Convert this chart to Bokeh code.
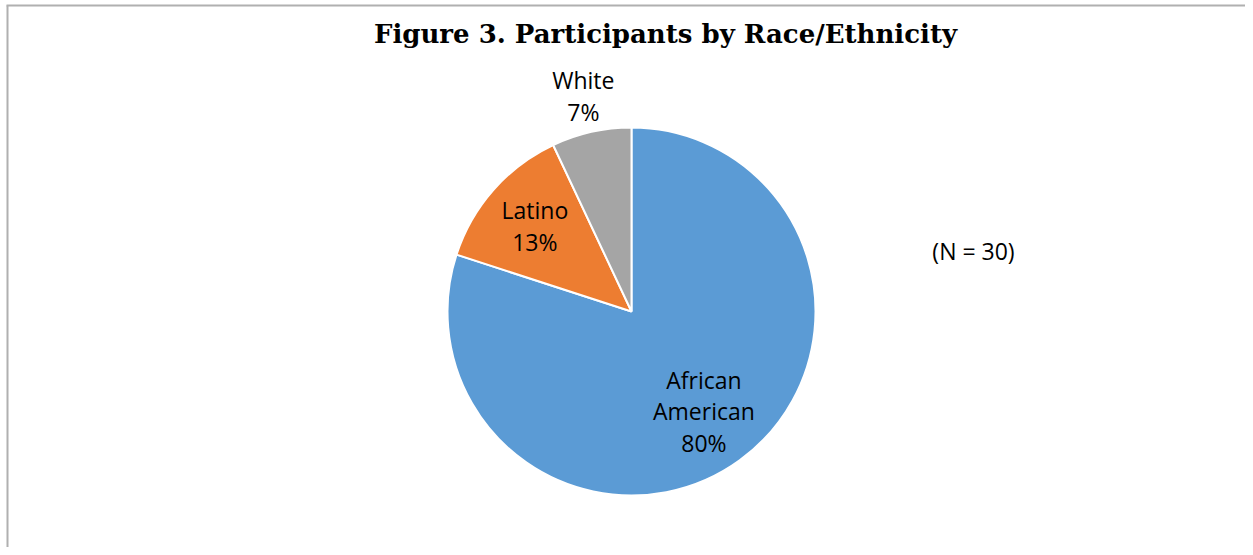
import math
from bokeh.plotting import figure
from bokeh.models import Range1d, ColumnDataSource
from bokeh.core.properties import value
from bokeh.embed import file_html
from bokeh.resources import INLINE

# ---- data ----
categories = ["African American", "Latino", "White"]
percents = [80, 13, 7]
colors = ["#5B9BD5", "#ED7D31", "#A5A5A5"]
label_lines = ["African\nAmerican\n80%", "Latino\n13%", "White\n7%"]
label_radius = [0.67, 0.70, 1.20]
title_text = "Figure 3. Participants by Race/Ethnicity"
note_text = "(N = 30)"

W, H = 1245, 547
p = figure(width=W, height=H, output_backend="svg", toolbar_location=None,
           x_range=Range1d(0, W), y_range=Range1d(0, H), min_border=0,
           outline_line_color=None)
p.axis.visible = False
p.grid.visible = False
p.background_fill_color = "white"
p.border_fill_color = "white"

cx, cy, r = 631, H - 311, 184

total = sum(percents)
starts, ends, lx, ly = [], [], [], []
acc = 0.0
for pct, rf in zip(percents, label_radius):
    a0 = math.pi / 2 - 2 * math.pi * acc / total
    a1 = math.pi / 2 - 2 * math.pi * (acc + pct) / total
    starts.append(a0)
    ends.append(a1)
    mid = (a0 + a1) / 2
    lx.append(cx + rf * r * math.cos(mid))
    ly.append(cy + rf * r * math.sin(mid))
    acc += pct

src = ColumnDataSource(dict(start=starts, end=ends, color=colors,
                            lx=lx, ly=ly, text=label_lines))
p.wedge(x=cx, y=cy, radius=r, start_angle="start", end_angle="end",
        direction="clock", fill_color="color", line_color="white",
        line_width=2, source=src)

p.text(x="lx", y="ly", text="text", source=src, text_align="center",
       text_baseline="middle", text_font=value("Open Sans"),
       text_font_size="23px", text_color="#000000", text_line_height=0.99)

p.text(x=[973], y=[H - 250], text=[note_text], text_align="center",
       text_baseline="middle", text_font=value("Open Sans"),
       text_font_size="23px", text_color="#000000")

p.text(x=[665], y=[H - 33], text=[title_text], text_align="center",
       text_baseline="middle", text_font=value("DejaVu Serif"),
       text_font_style="bold", text_font_size="26px", text_color="#000000")

# chart border (left and top)
p.line(x=[7, 7], y=[0, H - 5], line_color="#B0B0B0", line_width=2)
p.line(x=[6, W], y=[H - 5, H - 5], line_color="#B0B0B0", line_width=2)

open("out.html", "w").write(file_html(p, INLINE))
